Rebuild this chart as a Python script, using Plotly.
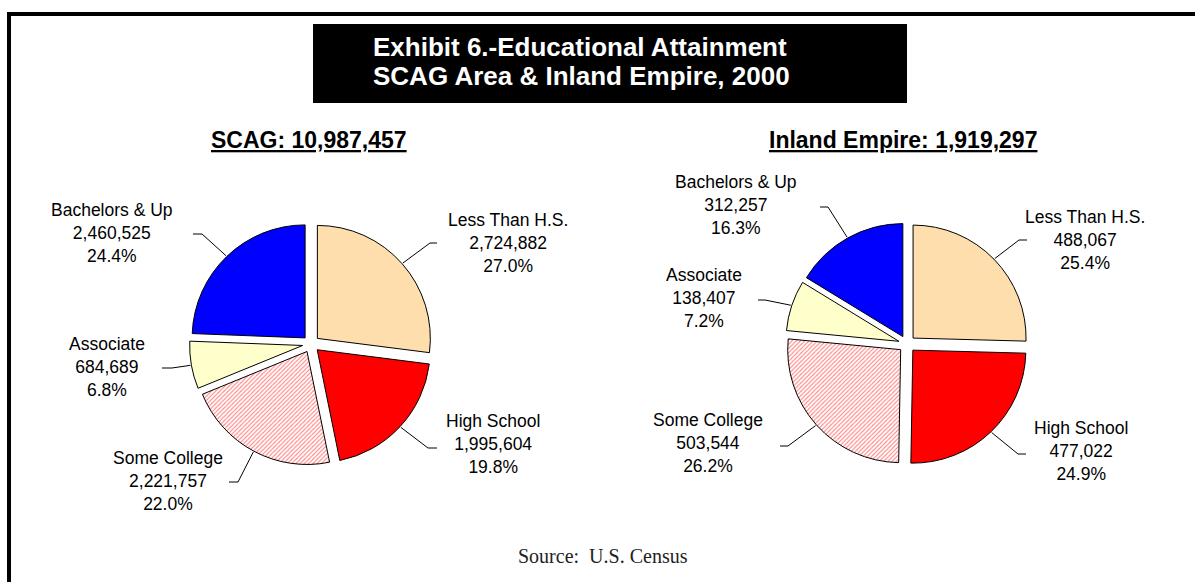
import math
import plotly.graph_objects as go

# ---- data -------------------------------------------------------------
categories = ["Less Than H.S.", "High School", "Some College", "Associate", "Bachelors & Up"]
scag_values = [2724882, 1995604, 2221757, 684689, 2460525]
inland_values = [488067, 477022, 503544, 138407, 312257]
region_names = ["SCAG", "Inland Empire"]
region_totals = [10987457, 1919297]
title_lines = ["Exhibit 6.-Educational Attainment", "SCAG Area & Inland Empire, 2000"]
source_text = "Source:\u00a0 U.S. Census"

# ---- styling / layout ---------------------------------------------------
W, H = 1195, 582
SLICE_COLORS = ["#FFDEAD", "#FF0000", "#FFFFFF", "#FFFFCC", "#0000FF"]
PATTERN_SHAPES = ["", "", "/", "", ""]
FONT = "Liberation Sans, Arial, sans-serif"
R_PX = 113          # pie radius in pixels
PULL = 0.075        # explode distance as a fraction of the radius
CENTERS = [(311, 344), (907, 344)]

# label block centres (x, y of middle line) and leader elbows
LABEL_POS = [
    [(508, 243), (493, 444), (168, 481), (107, 367), (112, 233)],
    [(1085, 240), (1081, 451), (708, 443), (704, 298), (736, 205)],
]
LEADER_KNEE = [
    [(430, 243), (428, 448), (238, 482), (172, 368), (202, 234)],
    [(1019, 240), (1018, 454), (788, 446), (765, 300), (828, 207)],
]
LEADER_END_X = [
    [437, 437, 229, 162, 193],
    [1027, 1026, 780, 758, 820],
]


def fx(px):
    return px / W


def fy(py):
    return 1 - py / H


fig = go.Figure()
shapes = []
annotations = []

for k, values in enumerate([scag_values, inland_values]):
    cx, cy = CENTERS[k]
    half = R_PX * (1 + PULL)
    fig.add_trace(go.Pie(
        labels=categories,
        values=values,
        sort=False,
        direction="clockwise",
        rotation=0,
        pull=[PULL] * len(values),
        textinfo="none",
        hoverinfo="skip",
        marker=dict(
            colors=SLICE_COLORS,
            line=dict(color="black", width=1),
            pattern=dict(shape=PATTERN_SHAPES, fgcolor="#FF0000", bgcolor="#FFFFFF",
                         size=3, solidity=0.35, fillmode="overlay"),
        ),
        domain=dict(x=[fx(cx - half), fx(cx + half)], y=[fy(cy + half), fy(cy - half)]),
        showlegend=False,
    ))

    total = sum(values)
    cum = 0.0
    for i, (cat, v) in enumerate(zip(categories, values)):
        frac = v / total
        theta = math.radians(360 * (cum + frac / 2))
        cum += frac
        # leader line: slice edge -> elbow -> short horizontal run
        rr = R_PX * (1 + PULL) + 1
        sx, sy = cx + rr * math.sin(theta), cy - rr * math.cos(theta)
        kx, ky = LEADER_KNEE[k][i]
        ex = LEADER_END_X[k][i]
        shapes.append(dict(type="path", xref="paper", yref="paper",
                           path=f"M {fx(sx)},{fy(sy)} L {fx(kx)},{fy(ky)} L {fx(ex)},{fy(ky)}",
                           line=dict(color="black", width=1)))
        lx, ly = LABEL_POS[k][i]
        annotations.append(dict(
            x=fx(lx), y=fy(ly), xref="paper", yref="paper",
            xanchor="center", yanchor="middle", align="center", showarrow=False,
            text=f"{cat}<br>{v:,}<br>{frac * 100:.1f}%",
            font=dict(family=FONT, size=17.5, color="black"),
        ))

    annotations.append(dict(
        x=fx(cx - 2 if k == 0 else cx - 4), y=fy(140), xref="paper", yref="paper",
        xanchor="center", yanchor="middle", showarrow=False,
        text=f"<b><u>{region_names[k]}: {region_totals[k]:,}</u></b>",
        font=dict(family=FONT, size=23, color="black"),
    ))

# title box
shapes.append(dict(type="rect", xref="paper", yref="paper",
                   x0=fx(313), x1=fx(907), y0=fy(103), y1=fy(24),
                   fillcolor="black", line=dict(width=0), layer="below"))
for j, line in enumerate(title_lines):
    annotations.append(dict(
        x=fx(371), y=fy(47 + 29 * j), xref="paper", yref="paper",
        xanchor="left", yanchor="middle", showarrow=False,
        text=f"<b>{line}</b>",
        font=dict(family=FONT, size=26, color="white"),
    ))

# source note
annotations.append(dict(
    x=fx(603), y=fy(556), xref="paper", yref="paper",
    xanchor="center", yanchor="middle", showarrow=False,
    text=source_text,
    font=dict(family="Liberation Serif, Times New Roman, serif", size=20, color="#222222"),
))

# outer frame (top and left edges visible)
shapes.append(dict(type="line", xref="paper", yref="paper",
                   x0=fx(7), x1=fx(W + 5), y0=fy(14), y1=fy(14),
                   line=dict(color="black", width=4)))
shapes.append(dict(type="line", xref="paper", yref="paper",
                   x0=fx(9), x1=fx(9), y0=fy(12), y1=fy(H + 5),
                   line=dict(color="black", width=4)))

fig.update_layout(
    width=W, height=H,
    margin=dict(l=0, r=0, t=0, b=0),
    paper_bgcolor="white",
    plot_bgcolor="white",
    shapes=shapes,
    annotations=annotations,
    showlegend=False,
)

fig.write_html("out.html")
